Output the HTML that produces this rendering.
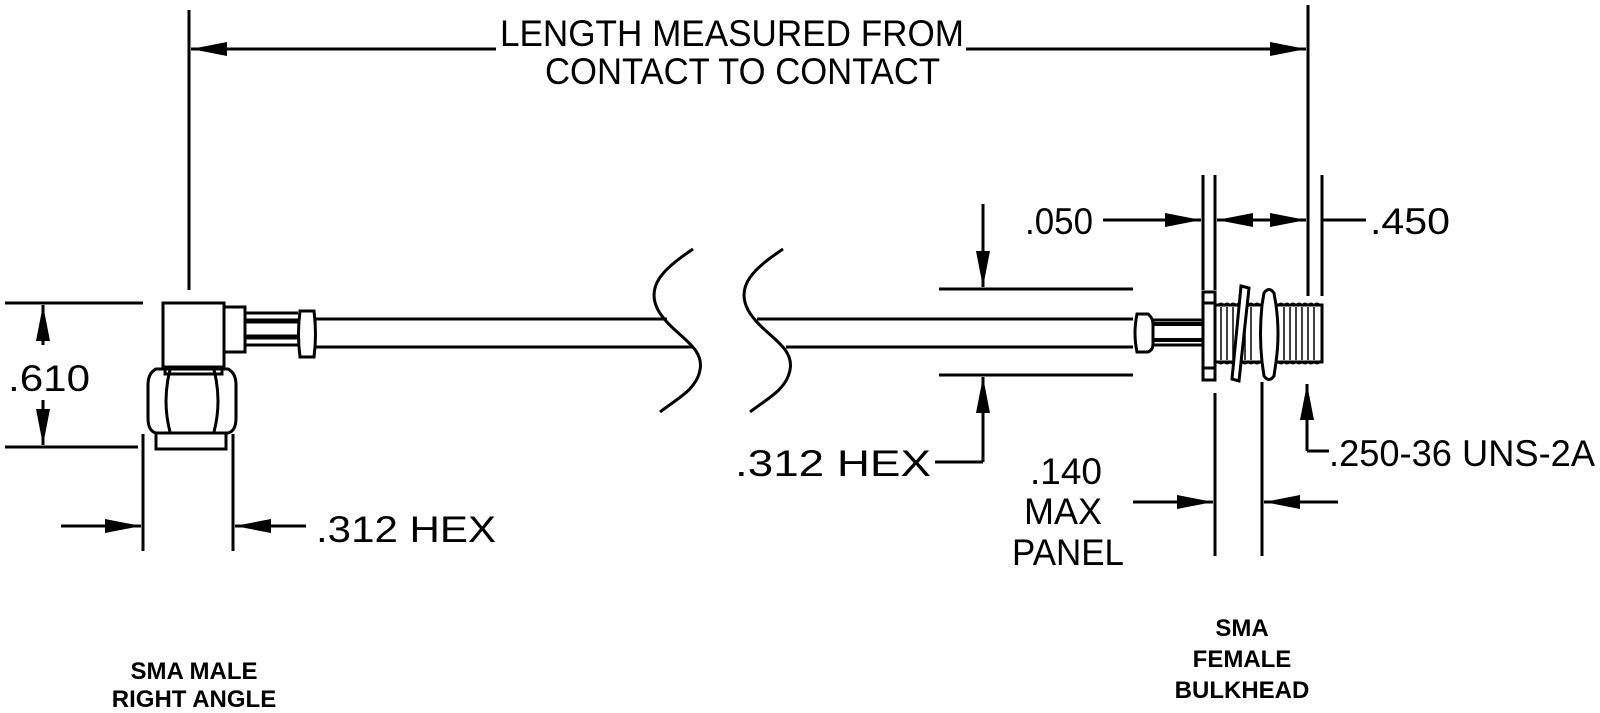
<!DOCTYPE html>
<html><head><meta charset="utf-8"><style>
html,body{margin:0;padding:0;background:#fff;}
svg{display:block;}
text{font-family:"Liberation Sans",sans-serif;fill:#000;}
.t{font-size:37px;}
.b{font-size:24px;font-weight:bold;}
</style></head><body>
<svg width="1600" height="713" viewBox="0 0 1600 713" xmlns="http://www.w3.org/2000/svg">
<defs>
<marker id="a" viewBox="0 0 36 14" refX="36" refY="7" markerWidth="36" markerHeight="14" markerUnits="userSpaceOnUse" orient="auto"><path d="M0,0 L36,7 L0,14 Z" fill="#000"/></marker>
</defs>
<g stroke="#000" stroke-width="3" fill="none">
<line x1="189" y1="10" x2="189" y2="290"/>
<line x1="1308" y1="5" x2="1308" y2="296"/>
<line x1="496" y1="49" x2="191" y2="49" marker-end="url(#a)"/>
<line x1="966" y1="49" x2="1306" y2="49" marker-end="url(#a)"/>

<rect x="163" y="303" width="61" height="64"/>
<rect x="224" y="307" width="21" height="45"/>
<line x1="245" y1="313" x2="298" y2="313"/>
<line x1="245" y1="321" x2="298" y2="321" stroke-width="5"/>
<line x1="245" y1="337" x2="298" y2="337" stroke-width="5"/>
<line x1="245" y1="345" x2="298" y2="345"/>
<path d="M300,311 L314,311 Q317,334 314,357 L300,357 Q297,334 300,311 Z"/>
<line x1="316" y1="319" x2="667" y2="319"/>
<line x1="316" y1="347" x2="693" y2="347"/>
<rect x="165" y="367" width="57" height="7"/>
<path d="M156,369 L228,369 Q236,373 236,385 L236,418 Q236,431 228,433 L156,433 Q148,431 148,418 L148,385 Q148,373 156,369 Z"/>
<path d="M170,370 Q162,401 170,432 M214,370 Q222,401 214,432"/>
<rect x="156" y="433" width="70" height="16"/>

<line x1="5" y1="303" x2="143" y2="303"/>
<line x1="5" y1="447" x2="138" y2="447"/>
<line x1="43" y1="345" x2="43" y2="305" marker-end="url(#a)"/>
<line x1="43" y1="400" x2="43" y2="445" marker-end="url(#a)"/>

<line x1="143" y1="434" x2="143" y2="551"/>
<line x1="233" y1="434" x2="233" y2="551"/>
<line x1="61" y1="526" x2="141" y2="526" marker-end="url(#a)"/>
<line x1="306" y1="526" x2="235" y2="526" marker-end="url(#a)"/>

<path d="M693,249 C665,268 645,285 658,310 C672,335 705,345 700,370 C696,390 678,398 660,412"/>
<path d="M783,249 C755,268 735,285 748,310 C762,335 795,345 790,370 C786,390 768,398 750,412"/>

<line x1="757" y1="319" x2="1133" y2="319"/>
<line x1="786" y1="347" x2="1133" y2="347"/>
<path d="M1137,314 L1148,314 Q1153,318 1153,324 L1153,344 Q1153,350 1148,352 L1137,352 Q1133,333 1137,314 Z"/>
<line x1="1153" y1="320" x2="1203" y2="320"/>
<line x1="1153" y1="324" x2="1203" y2="324" stroke-width="4"/>
<line x1="1153" y1="340" x2="1203" y2="340" stroke-width="4"/>
<line x1="1153" y1="345" x2="1203" y2="345"/>
<rect x="1203" y="292" width="12" height="88"/>
<line x1="1203" y1="303" x2="1215" y2="303"/>
<line x1="1203" y1="368" x2="1215" y2="368"/>
<path d="M1215,305 L1322,305 L1322,362 L1215,362"/>
<path d="M1218,305 q3,-3 6,0 q3,-3 6,0 q3,-3 6,0 q3,-3 6,0 q3,-3 6,0 q3,-3 6,0 q3,-3 6,0 M1278,305 q3,-3 6,0 q3,-3 6,0 q3,-3 6,0 q3,-3 6,0 q3,-3 6,0 q3,-3 6,0 q3,-3 6,0" stroke-width="2"/>
<path d="M1218,362 q3,3 6,0 q3,3 6,0 q3,3 6,0 q3,3 6,0 q3,3 6,0 q3,3 6,0 q3,3 6,0 M1278,362 q3,3 6,0 q3,3 6,0 q3,3 6,0 q3,3 6,0 q3,3 6,0 q3,3 6,0 q3,3 6,0" stroke-width="2"/>
<path d="M1221,307 v53 M1227,307 v53 M1233,307 v53 M1239,307 v53 M1245,307 v53 M1251,307 v53 M1284,307 v53 M1290,307 v53 M1296,307 v53 M1302,307 v53 M1308,307 v53 M1314,307 v53" stroke-width="1.5"/>
<path d="M1241,286 L1249,288 L1239,381 L1232,379 Z" fill="#fff"/>
<path d="M1264,293 Q1269,286 1274,293 L1276,305 Q1280,334 1276,362 L1274,376 Q1269,383 1264,376 L1262,362 Q1259,334 1262,305 Z" fill="#fff"/>

<line x1="939" y1="289" x2="1133" y2="289"/>
<line x1="939" y1="375" x2="1133" y2="375"/>
<line x1="983" y1="204" x2="983" y2="287" marker-end="url(#a)"/>
<line x1="983" y1="462" x2="983" y2="377" marker-end="url(#a)"/>
<line x1="935" y1="462" x2="983" y2="462"/>

<line x1="1203" y1="175" x2="1203" y2="290"/>
<line x1="1215" y1="175" x2="1215" y2="290"/>
<line x1="1322" y1="175" x2="1322" y2="296"/>
<line x1="1103" y1="220" x2="1201" y2="220" marker-end="url(#a)"/>
<line x1="1262" y1="220" x2="1217" y2="220" marker-end="url(#a)"/>
<line x1="1262" y1="220" x2="1306" y2="220" marker-end="url(#a)"/>
<line x1="1322" y1="220" x2="1366" y2="220"/>

<line x1="1215" y1="393" x2="1215" y2="556"/>
<line x1="1262" y1="382" x2="1262" y2="556"/>
<line x1="1133" y1="502" x2="1213" y2="502" marker-end="url(#a)"/>
<line x1="1338" y1="502" x2="1264" y2="502" marker-end="url(#a)"/>

<line x1="1307" y1="451" x2="1307" y2="384" marker-end="url(#a)"/>
<line x1="1307" y1="451" x2="1329" y2="451"/>
</g>

<text class="t" x="500" y="46" textLength="464" lengthAdjust="spacingAndGlyphs">LENGTH MEASURED FROM</text>
<text class="t" x="545" y="84" textLength="395" lengthAdjust="spacingAndGlyphs">CONTACT TO CONTACT</text>
<text class="t" x="8" y="391" textLength="82" lengthAdjust="spacingAndGlyphs">.610</text>
<text class="t" x="316" y="542" textLength="180" lengthAdjust="spacingAndGlyphs">.312 HEX</text>
<text class="t" x="735" y="476" textLength="196" lengthAdjust="spacingAndGlyphs">.312 HEX</text>
<text class="t" x="1025" y="234" textLength="68" lengthAdjust="spacingAndGlyphs">.050</text>
<text class="t" x="1370" y="234" textLength="80" lengthAdjust="spacingAndGlyphs">.450</text>
<text class="t" x="1030" y="484" textLength="72" lengthAdjust="spacingAndGlyphs">.140</text>
<text class="t" x="1024" y="524" textLength="78" lengthAdjust="spacingAndGlyphs">MAX</text>
<text class="t" x="1012" y="565" textLength="112" lengthAdjust="spacingAndGlyphs">PANEL</text>
<text class="t" x="1329" y="466" textLength="266" lengthAdjust="spacingAndGlyphs">.250-36 UNS-2A</text>

<text class="b" x="194" y="679" text-anchor="middle">SMA MALE</text>
<text class="b" x="194" y="707" text-anchor="middle">RIGHT ANGLE</text>
<text class="b" x="1242" y="636" text-anchor="middle">SMA</text>
<text class="b" x="1242" y="667" text-anchor="middle">FEMALE</text>
<text class="b" x="1242" y="698" text-anchor="middle">BULKHEAD</text>
</svg>
</body></html>
